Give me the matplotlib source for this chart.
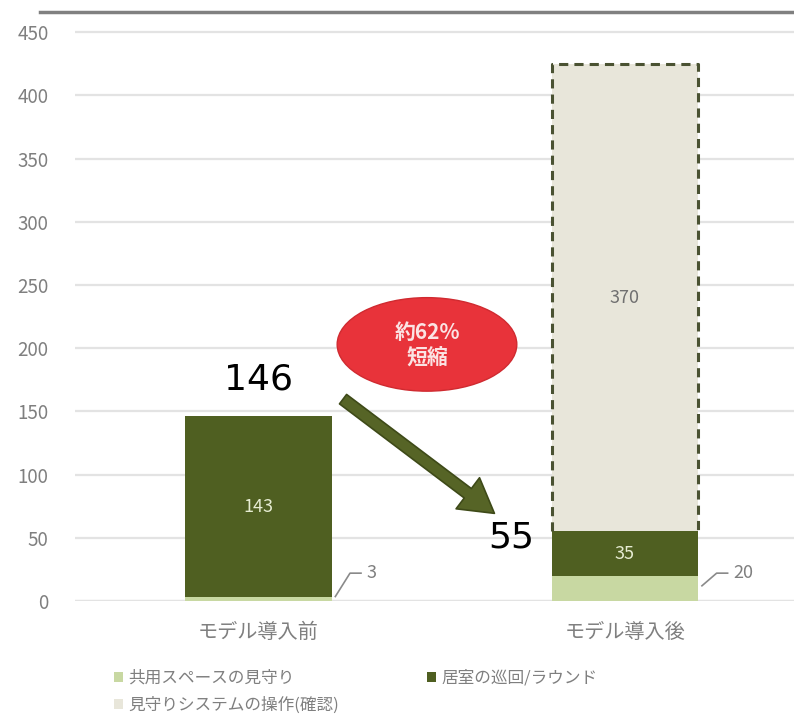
import matplotlib
matplotlib.use("Agg")
import matplotlib.pyplot as plt
from matplotlib.patches import Ellipse
from matplotlib.lines import Line2D
import numpy as np

plt.rcParams['font.family'] = ['Noto Sans CJK JP', 'DejaVu Sans']

categories = ["モデル導入前", "モデル導入後"]
series_names = ["共用スペースの見守り", "居室の巡回/ラウンド", "見守りシステムの操作(確認)"]
shared_space = [3, 20]
room_rounds = [143, 35]
system_ops = [0, 370]
totals_shown = [146, 55]
reduction_text = "約62%\n短縮"
yticks = [0, 50, 100, 150, 200, 250, 300, 350, 400, 450]

colors = ["#c8d8a2", "#4f5f21", "#e8e6da"]

fig = plt.figure(figsize=(7.94, 7.28), dpi=100)
ax = fig.add_axes([0.0945, 0.1745, 0.905, 0.809])

x = np.arange(len(categories))
w = 0.4
b1 = ax.bar(x, shared_space, w, color=colors[0], label=series_names[0], zorder=2)
b2 = ax.bar(x, room_rounds, w, bottom=shared_space, color=colors[1], label=series_names[1], zorder=2)
bottom3 = np.array(shared_space) + np.array(room_rounds)
b3 = ax.bar(x, system_ops, w, bottom=bottom3, color=colors[2], label=series_names[2], zorder=2)

# dashed outline around the system-operation segment (second bar)
i = 1
xl, xr = x[i] - w / 2, x[i] + w / 2
yb, yt = bottom3[i], bottom3[i] + system_ops[i]
ax.plot([xl, xl, xr, xr], [yb, yt, yt, yb], ls=(0, (3, 2)), color="#4a5232", lw=2.2, zorder=3)

ax.set_ylim(0, 466)
ax.set_xlim(-0.5, 1.46)
ax.set_yticks(yticks)
ax.set_yticklabels([str(t) for t in yticks], color="#7f7f7f", fontsize=13.5)
ax.set_xticks(x)
ax.set_xticklabels(categories, color="#7f7f7f", fontsize=14.5)
ax.tick_params(axis='x', length=0, pad=15)
ax.tick_params(axis='y', length=0, pad=19)
ax.grid(axis='y', color="#e3e3e3", lw=1.6, zorder=0)
for s in ax.spines.values():
    s.set_visible(False)
ax.axhline(0, color="#dcdcdc", lw=1.6, zorder=1)

# segment labels
ax.text(x[0], shared_space[0] + room_rounds[0] / 2, str(room_rounds[0]), ha='center', va='center',
        color="#e6ecd2", fontsize=13)
ax.text(x[1], shared_space[1] + room_rounds[1] / 2, str(room_rounds[1]), ha='center', va='center',
        color="#e6ecd2", fontsize=13)
ax.text(x[1], bottom3[1] + system_ops[1] / 2, str(system_ops[1]), ha='center', va='center',
        color="#707070", fontsize=13)

# leader labels for small segments
for j in range(2):
    xe = x[j] + w / 2
    ax.plot([xe + 0.01, xe + 0.05, xe + 0.08], [shared_space[j] / 2 + 2, 22, 22],
            color="#8a8a8a", lw=1.2, zorder=3)
    ax.text(xe + 0.095, 22, str(shared_space[j]), color="#7f7f7f", fontsize=13,
            ha='left', va='center')

# totals
ax.text(x[0], 175, str(totals_shown[0]), ha='center', va='center', fontsize=26, color="black",
        family=['DejaVu Sans'])
ax.text(0.69, 50.5, str(totals_shown[1]), ha='center', va='center', fontsize=26, color="black",
        family=['DejaVu Sans'])

# arrow
ax.annotate("", xy=(0.65, 68), xytext=(0.225, 161),
            arrowprops=dict(arrowstyle="simple,head_width=2.8,head_length=2.4,tail_width=0.85",
                            fc="#566426", ec="#3e4a18", lw=1.2), zorder=5)

# red ellipse
ell = Ellipse((0.46, 203), 0.49, 74, facecolor="#e8333a", edgecolor="#d02a30", lw=1, zorder=5)
ax.add_patch(ell)
ax.text(0.46, 202.5, reduction_text, ha='center', va='center', color="#fbe3e3", fontsize=15,
        fontweight='bold', linespacing=1.25, zorder=6)

# top rule
fig.add_artist(Line2D([40 / 794, 1.0], [1 - 12 / 728, 1 - 12 / 728], color="#808080", lw=2.5))

leg = fig.legend(handles=[b1, b3, b2], labels=[series_names[0], series_names[2], series_names[1]],
                 loc='upper left', bbox_to_anchor=(0.135, 0.089), ncol=2, frameon=False,
                 fontsize=12, handlelength=0.55, handleheight=0.55, handletextpad=0.3,
                 columnspacing=5.3, labelspacing=0.6, borderaxespad=0)
for t in leg.get_texts():
    t.set_color("#7f7f7f")

fig.savefig("out.png", dpi=100)
